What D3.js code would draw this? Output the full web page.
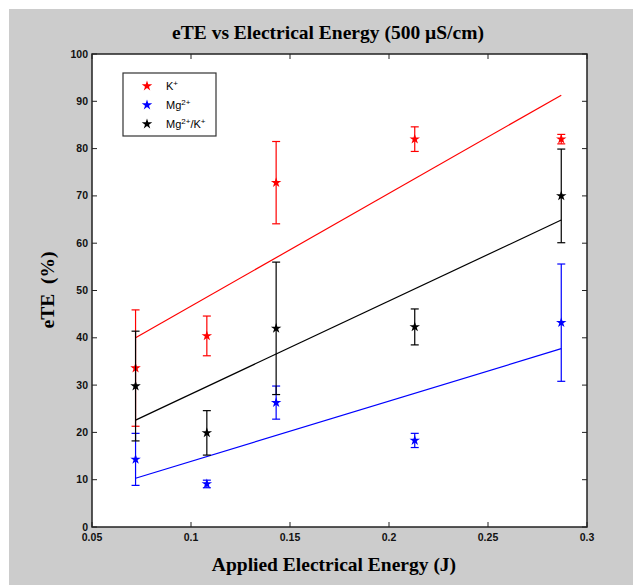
<!DOCTYPE html>
<html>
<head>
<meta charset="utf-8">
<script src="https://cdn.jsdelivr.net/npm/d3@7"></script>
<style>
  body { margin: 0; background: #fff; }
  .tick-label { font-family: "Liberation Sans", Arial, sans-serif; font-weight: bold; font-size: 10.5px; fill: #111; }
  .title { font-family: "Liberation Serif", "Times New Roman", serif; font-weight: bold; font-size: 19.5px; fill: #000; }
  .legend-text { font-family: "Liberation Sans", Arial, sans-serif; font-size: 11px; fill: #000; }
</style>
</head>
<body>
<div id="chart"></div>
<script>
// energy values (J)
const energy = [0.072, 0.108, 0.143, 0.213, 0.287];

// eTE means and error half-widths (%)
const kMean = [33.6, 40.4, 72.8, 82.0, 82.0];
const kErr = [12.3, 4.2, 8.7, 2.6, 1.0];
const mgMean = [14.3, 9.1, 26.3, 18.3, 43.2];
const mgErr = [5.5, 0.8, 3.5, 1.5, 12.4];
const mgkMean = [29.8, 19.9, 42.0, 42.3, 70.0];
const mgkErr = [11.6, 4.7, 14.0, 3.8, 9.9];

// fitted line ends [at first energy, at last energy]
const kFit = [40.0, 91.3];
const mgFit = [10.3, 37.7];
const mgkFit = [22.6, 64.9];

const xTicks = [0.05, 0.1, 0.15, 0.2, 0.25, 0.3];
const yTicks = [0, 10, 20, 30, 40, 50, 60, 70, 80, 90, 100];

const series = [
  { name: "K", sup: "+", tail: "", color: "#ff0000", mean: kMean, err: kErr, fit: kFit },
  { name: "Mg", sup: "2+", tail: "", color: "#0000ff", mean: mgMean, err: mgErr, fit: mgFit },
  { name: "Mg", sup: "2+", tail: "/K", tail2: "+", color: "#000000", mean: mgkMean, err: mgkErr, fit: mgkFit },
];

const WIDTH = 633;
const HEIGHT = 585;
const plotL = 92, plotR = 587, plotT = 54, plotB = 527;

const svg = d3.select("#chart").append("svg")
  .attr("width", WIDTH)
  .attr("height", HEIGHT);

// grey figure background
svg.append("rect")
  .attr("x", 9).attr("y", 9)
  .attr("width", WIDTH - 9).attr("height", HEIGHT - 9)
  .attr("fill", "#cccccc");

const x = d3.scaleLinear().domain([0.05, 0.3]).range([plotL, plotR]);
const y = d3.scaleLinear().domain([0, 100]).range([plotB, plotT]);

// plot area
svg.append("rect")
  .attr("x", plotL).attr("y", plotT)
  .attr("width", plotR - plotL).attr("height", plotB - plotT)
  .attr("fill", "#fff");

// ticks on all four sides, pointing inward
const tickLen = 5;
const ticks = svg.append("g").attr("stroke", "#222").attr("stroke-width", 1);
xTicks.forEach(t => {
  ticks.append("line").attr("x1", x(t)).attr("x2", x(t)).attr("y1", plotB).attr("y2", plotB - tickLen);
  ticks.append("line").attr("x1", x(t)).attr("x2", x(t)).attr("y1", plotT).attr("y2", plotT + tickLen);
});
yTicks.forEach(t => {
  ticks.append("line").attr("x1", plotL).attr("x2", plotL + tickLen).attr("y1", y(t)).attr("y2", y(t));
  ticks.append("line").attr("x1", plotR).attr("x2", plotR - tickLen).attr("y1", y(t)).attr("y2", y(t));
});

// tick labels
svg.append("g").selectAll("text").data(xTicks).join("text")
  .attr("class", "tick-label")
  .attr("x", d => x(d))
  .attr("y", plotB + 14)
  .attr("text-anchor", "middle")
  .text(d => d);

svg.append("g").selectAll("text").data(yTicks).join("text")
  .attr("class", "tick-label")
  .attr("x", plotL - 4)
  .attr("y", d => y(d) + 3.5)
  .attr("text-anchor", "end")
  .text(d => d);

// fit lines
const line = d3.line().x(d => x(d[0])).y(d => y(d[1]));
series.forEach(s => {
  svg.append("path")
    .attr("d", line([[energy[0], s.fit[0]], [energy[energy.length - 1], s.fit[1]]]))
    .attr("stroke", s.color)
    .attr("stroke-width", 1.2)
    .attr("fill", "none");
});

// error bars and star markers
const star = d3.symbol().type(d3.symbolStar).size(34);
const cap = 4;
series.forEach(s => {
  const g = svg.append("g").attr("stroke", s.color).attr("stroke-width", 1.2);
  energy.forEach((e, i) => {
    const lo = y(s.mean[i] - s.err[i]);
    const hi = y(s.mean[i] + s.err[i]);
    g.append("line").attr("x1", x(e)).attr("x2", x(e)).attr("y1", lo).attr("y2", hi);
    g.append("line").attr("x1", x(e) - cap).attr("x2", x(e) + cap).attr("y1", lo).attr("y2", lo);
    g.append("line").attr("x1", x(e) - cap).attr("x2", x(e) + cap).attr("y1", hi).attr("y2", hi);
  });
  svg.append("g").selectAll("path").data(energy).join("path")
    .attr("d", star)
    .attr("transform", (e, i) => `translate(${x(e)},${y(s.mean[i])})`)
    .attr("fill", s.color);
});

// axes box
svg.append("rect")
  .attr("x", plotL).attr("y", plotT)
  .attr("width", plotR - plotL).attr("height", plotB - plotT)
  .attr("fill", "none")
  .attr("stroke", "#222")
  .attr("stroke-width", 1.5);

// legend
const legend = svg.append("g");
legend.append("rect")
  .attr("x", 123).attr("y", 73)
  .attr("width", 93).attr("height", 63)
  .attr("fill", "#fff")
  .attr("stroke", "#333")
  .attr("stroke-width", 1.2);
series.forEach((s, i) => {
  const ry = 86 + i * 19;
  legend.append("path")
    .attr("d", star)
    .attr("transform", `translate(147,${ry})`)
    .attr("fill", s.color);
  const t = legend.append("text")
    .attr("class", "legend-text")
    .attr("x", 166)
    .attr("y", ry + 4);
  t.append("tspan").text(s.name);
  t.append("tspan").attr("dy", -4).attr("font-size", "8px").text(s.sup);
  if (s.tail) {
    t.append("tspan").attr("dy", 4).text(s.tail);
    t.append("tspan").attr("dy", -4).attr("font-size", "8px").text(s.tail2);
  }
});

// title and axis labels
svg.append("text")
  .attr("class", "title")
  .attr("x", 328).attr("y", 39)
  .attr("text-anchor", "middle")
  .text("eTE vs Electrical Energy (500 µS/cm)");

svg.append("text")
  .attr("class", "title")
  .attr("x", 334).attr("y", 571)
  .attr("text-anchor", "middle")
  .text("Applied Electrical Energy (J)");

svg.append("text")
  .attr("class", "title")
  .attr("transform", "translate(54,290) rotate(-90)")
  .attr("text-anchor", "middle")
  .attr("xml:space", "preserve")
  .text("eTE  (%)");
</script>
</body>
</html>
